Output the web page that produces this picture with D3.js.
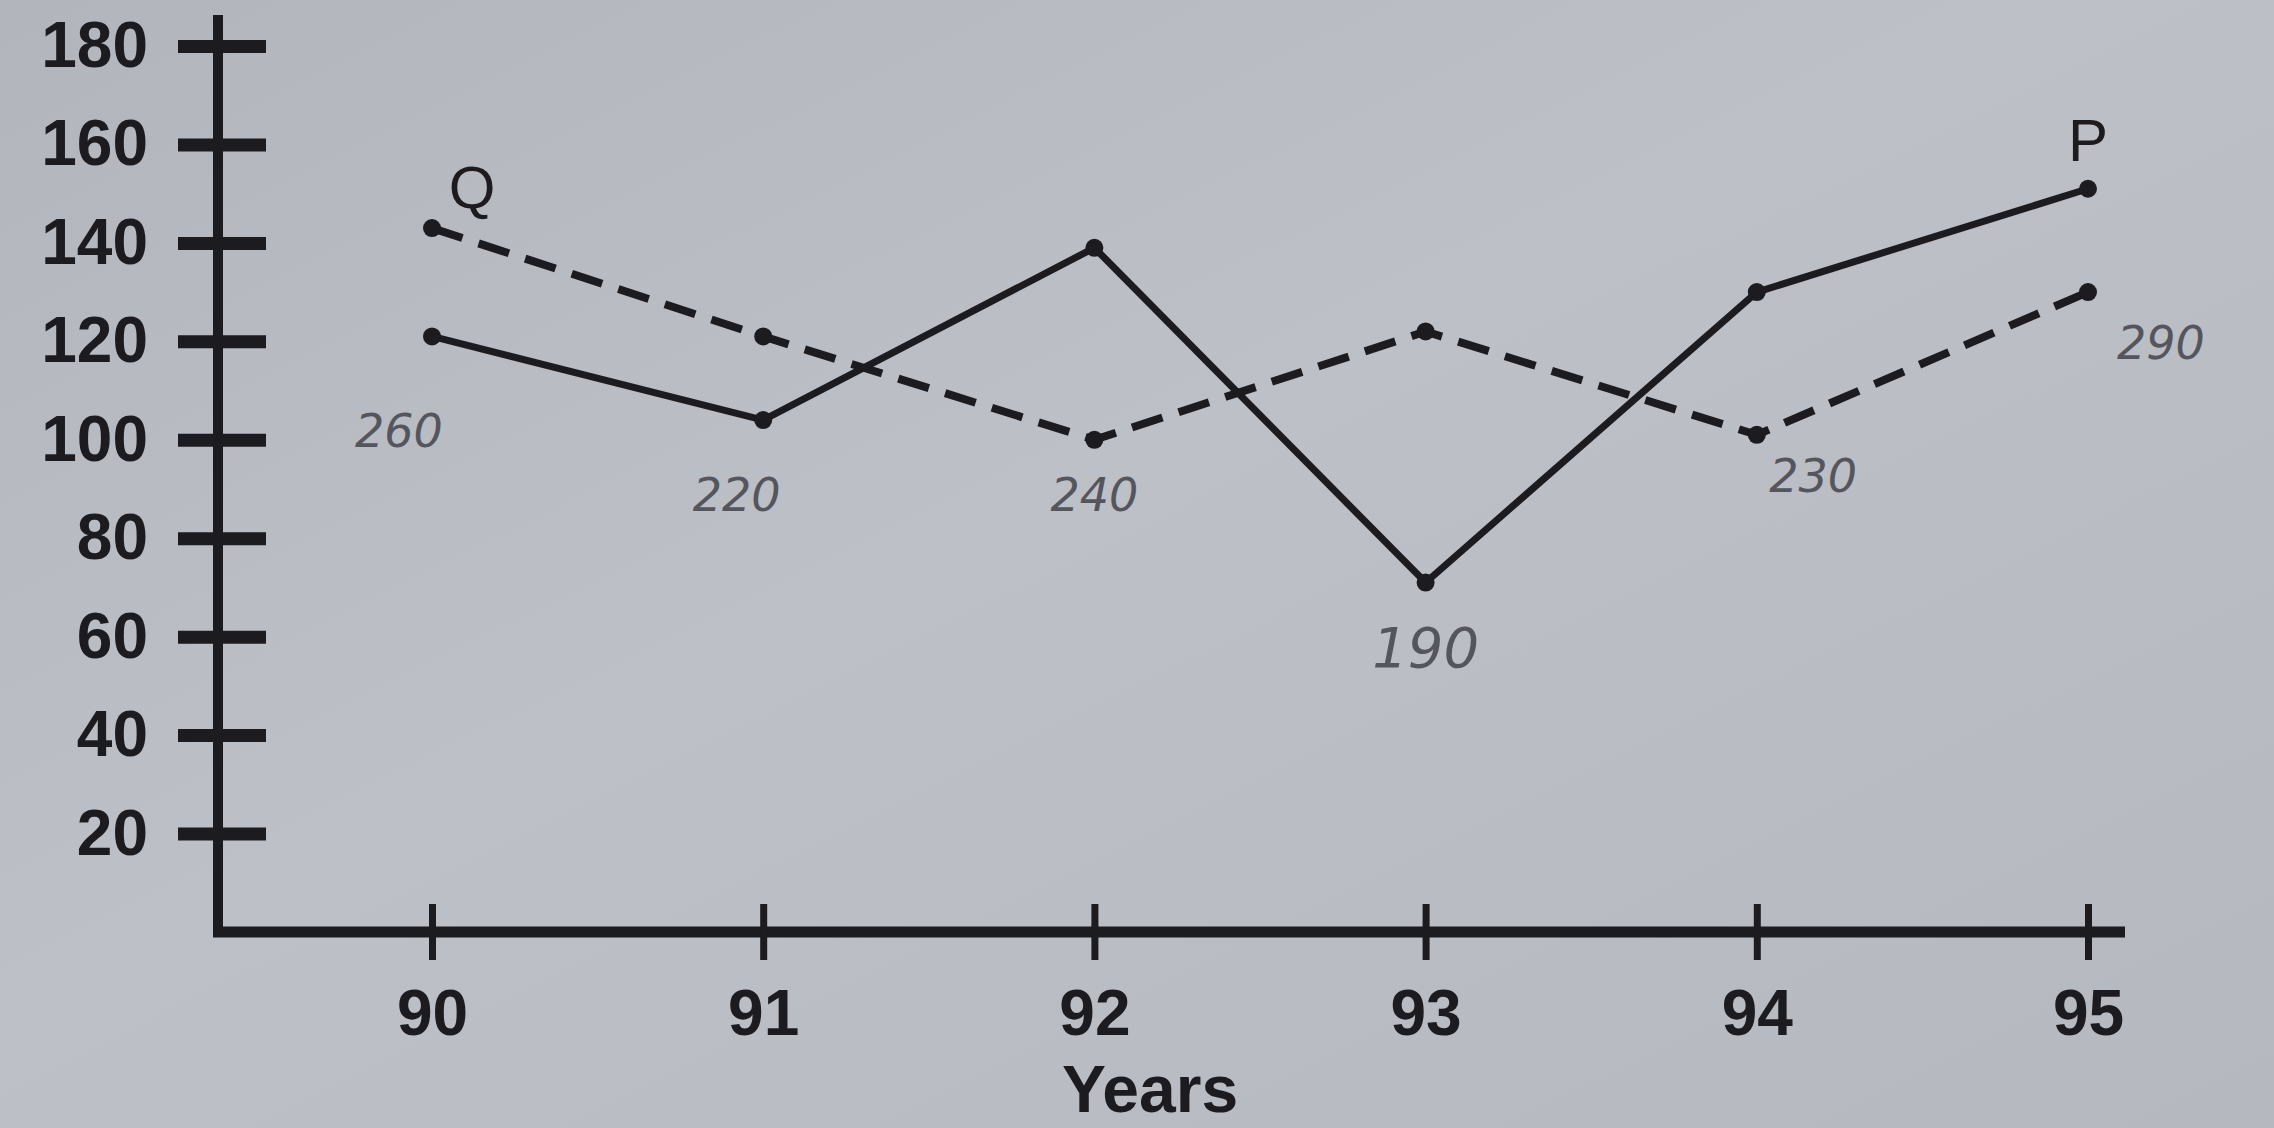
<!DOCTYPE html>
<html>
<head>
<meta charset="utf-8">
<script src="https://cdn.jsdelivr.net/npm/d3@7"></script>
<style>
  html, body { margin: 0; padding: 0; background: #b8bbc2; }
  svg { display: block; }
</style>
</head>
<body>
<svg id="chart" width="2274" height="1128"></svg>
<script>
// ---- data ----
const years = [90, 91, 92, 93, 94, 95];
const seriesP = [121, 104, 139, 71, 130, 151];
const seriesQ = [143, 121, 100, 122, 101, 130];
const yTickValues = [20, 40, 60, 80, 100, 120, 140, 160, 180];
const xTickLabels = ["90", "91", "92", "93", "94", "95"];
const seriesNames = ["P", "Q"];
const axisTitle = "Years";
// handwritten notes (year position, value position, text)
const noteYears = [89.9, 90.92, 92.0, 93.0, 94.17, 95.22];
const noteValues = [101, 88, 88, 57, 92, 119];
const noteTexts = ["260", "220", "240", "190", "230", "290"];

// ---- layout ----
const W = 2274, H = 1128;
const svg = d3.select("#chart");
const ink = "#1c1b20";

const defs = svg.append("defs");
const grad = defs.append("linearGradient").attr("id", "paper")
  .attr("x1", "0").attr("y1", "0").attr("x2", "1").attr("y2", "1");
grad.append("stop").attr("offset", "0").attr("stop-color", "#b2b5bc");
grad.append("stop").attr("offset", "0.45").attr("stop-color", "#bdc0c7");
grad.append("stop").attr("offset", "1").attr("stop-color", "#b5b8bf");
svg.append("rect").attr("width", W).attr("height", H).attr("fill", "url(#paper)");

const x = d3.scaleLinear().domain([90, 95]).range([432, 2088]);
const y = d3.scaleLinear().domain([0, 180]).range([932, 46]);
const axisX0 = 218;
const fontMain = "'Liberation Sans', Arial, sans-serif";

// ---- Y axis ----
const yAxis = d3.axisLeft(y).tickValues(yTickValues).tickSize(0).tickPadding(70)
  .tickFormat(d3.format("d"));
const gy = svg.append("g").attr("transform", `translate(${axisX0},0)`).call(yAxis);
gy.select(".domain").remove();
gy.selectAll(".tick text")
  .attr("fill", ink)
  .style("font-family", fontMain)
  .style("font-weight", "bold")
  .style("font-size", "64px");
gy.selectAll(".tick").append("line")
  .attr("x1", -40).attr("x2", 48)
  .attr("stroke", ink).attr("stroke-width", 13);
svg.append("line")
  .attr("x1", axisX0).attr("x2", axisX0)
  .attr("y1", 15).attr("y2", y(0) + 5)
  .attr("stroke", ink).attr("stroke-width", 10);

// ---- X axis ----
svg.append("line")
  .attr("x1", axisX0 - 5).attr("x2", 2125)
  .attr("y1", y(0)).attr("y2", y(0))
  .attr("stroke", ink).attr("stroke-width", 11);
const xAxis = d3.axisBottom(x).tickValues(years).tickSize(0).tickPadding(90)
  .tickFormat((d, i) => xTickLabels[i]);
const gx = svg.append("g").attr("transform", `translate(0,${y(0)})`).call(xAxis);
gx.select(".domain").remove();
gx.selectAll(".tick text")
  .attr("fill", ink)
  .attr("dy", "0.2em")
  .style("font-family", fontMain)
  .style("font-weight", "bold")
  .style("font-size", "64px");
gx.selectAll(".tick").append("line")
  .attr("y1", -28).attr("y2", 28)
  .attr("stroke", ink).attr("stroke-width", 7);

svg.append("text")
  .attr("x", (x(92) + x(93)) / 2 - 110)
  .attr("y", 1112)
  .attr("text-anchor", "middle")
  .attr("fill", ink)
  .style("font-family", fontMain)
  .style("font-weight", "bold")
  .style("font-size", "66px")
  .text(axisTitle);

// ---- lines ----
const line = d3.line().x((d, i) => x(years[i])).y(d => y(d));

svg.append("path").datum(seriesQ)
  .attr("d", line)
  .attr("fill", "none").attr("stroke", ink)
  .attr("stroke-width", 8).attr("stroke-dasharray", "32,17");

svg.append("path").datum(seriesP)
  .attr("d", line)
  .attr("fill", "none").attr("stroke", ink)
  .attr("stroke-width", 7);

[seriesP, seriesQ].forEach(s => {
  svg.append("g").selectAll("circle").data(s).join("circle")
    .attr("cx", (d, i) => x(years[i]))
    .attr("cy", d => y(d))
    .attr("r", 9)
    .attr("fill", ink);
});

// series labels
svg.append("text")
  .attr("x", x(years[5])).attr("y", y(seriesP[5]) - 28)
  .attr("text-anchor", "middle").attr("fill", ink)
  .style("font-family", fontMain)
  .style("font-size", "60px")
  .text(seriesNames[0]);
svg.append("text")
  .attr("x", x(years[0]) + 40).attr("y", y(seriesQ[0]) - 20)
  .attr("text-anchor", "middle").attr("fill", ink)
  .style("font-family", fontMain)
  .style("font-size", "60px")
  .text(seriesNames[1]);

// handwritten notes
svg.append("g").selectAll("text").data(noteTexts).join("text")
  .attr("x", (d, i) => x(noteYears[i]))
  .attr("y", (d, i) => y(noteValues[i]))
  .attr("text-anchor", "middle")
  .attr("dominant-baseline", "middle")
  .attr("fill", "#55555e")
  .style("font-family", "'DejaVu Sans', sans-serif")
  .style("font-style", "italic")
  .style("font-weight", "200")
  .style("font-size", (d, i) => i === 3 ? "56px" : "46px")
  .text(d => d);
</script>
</body>
</html>
